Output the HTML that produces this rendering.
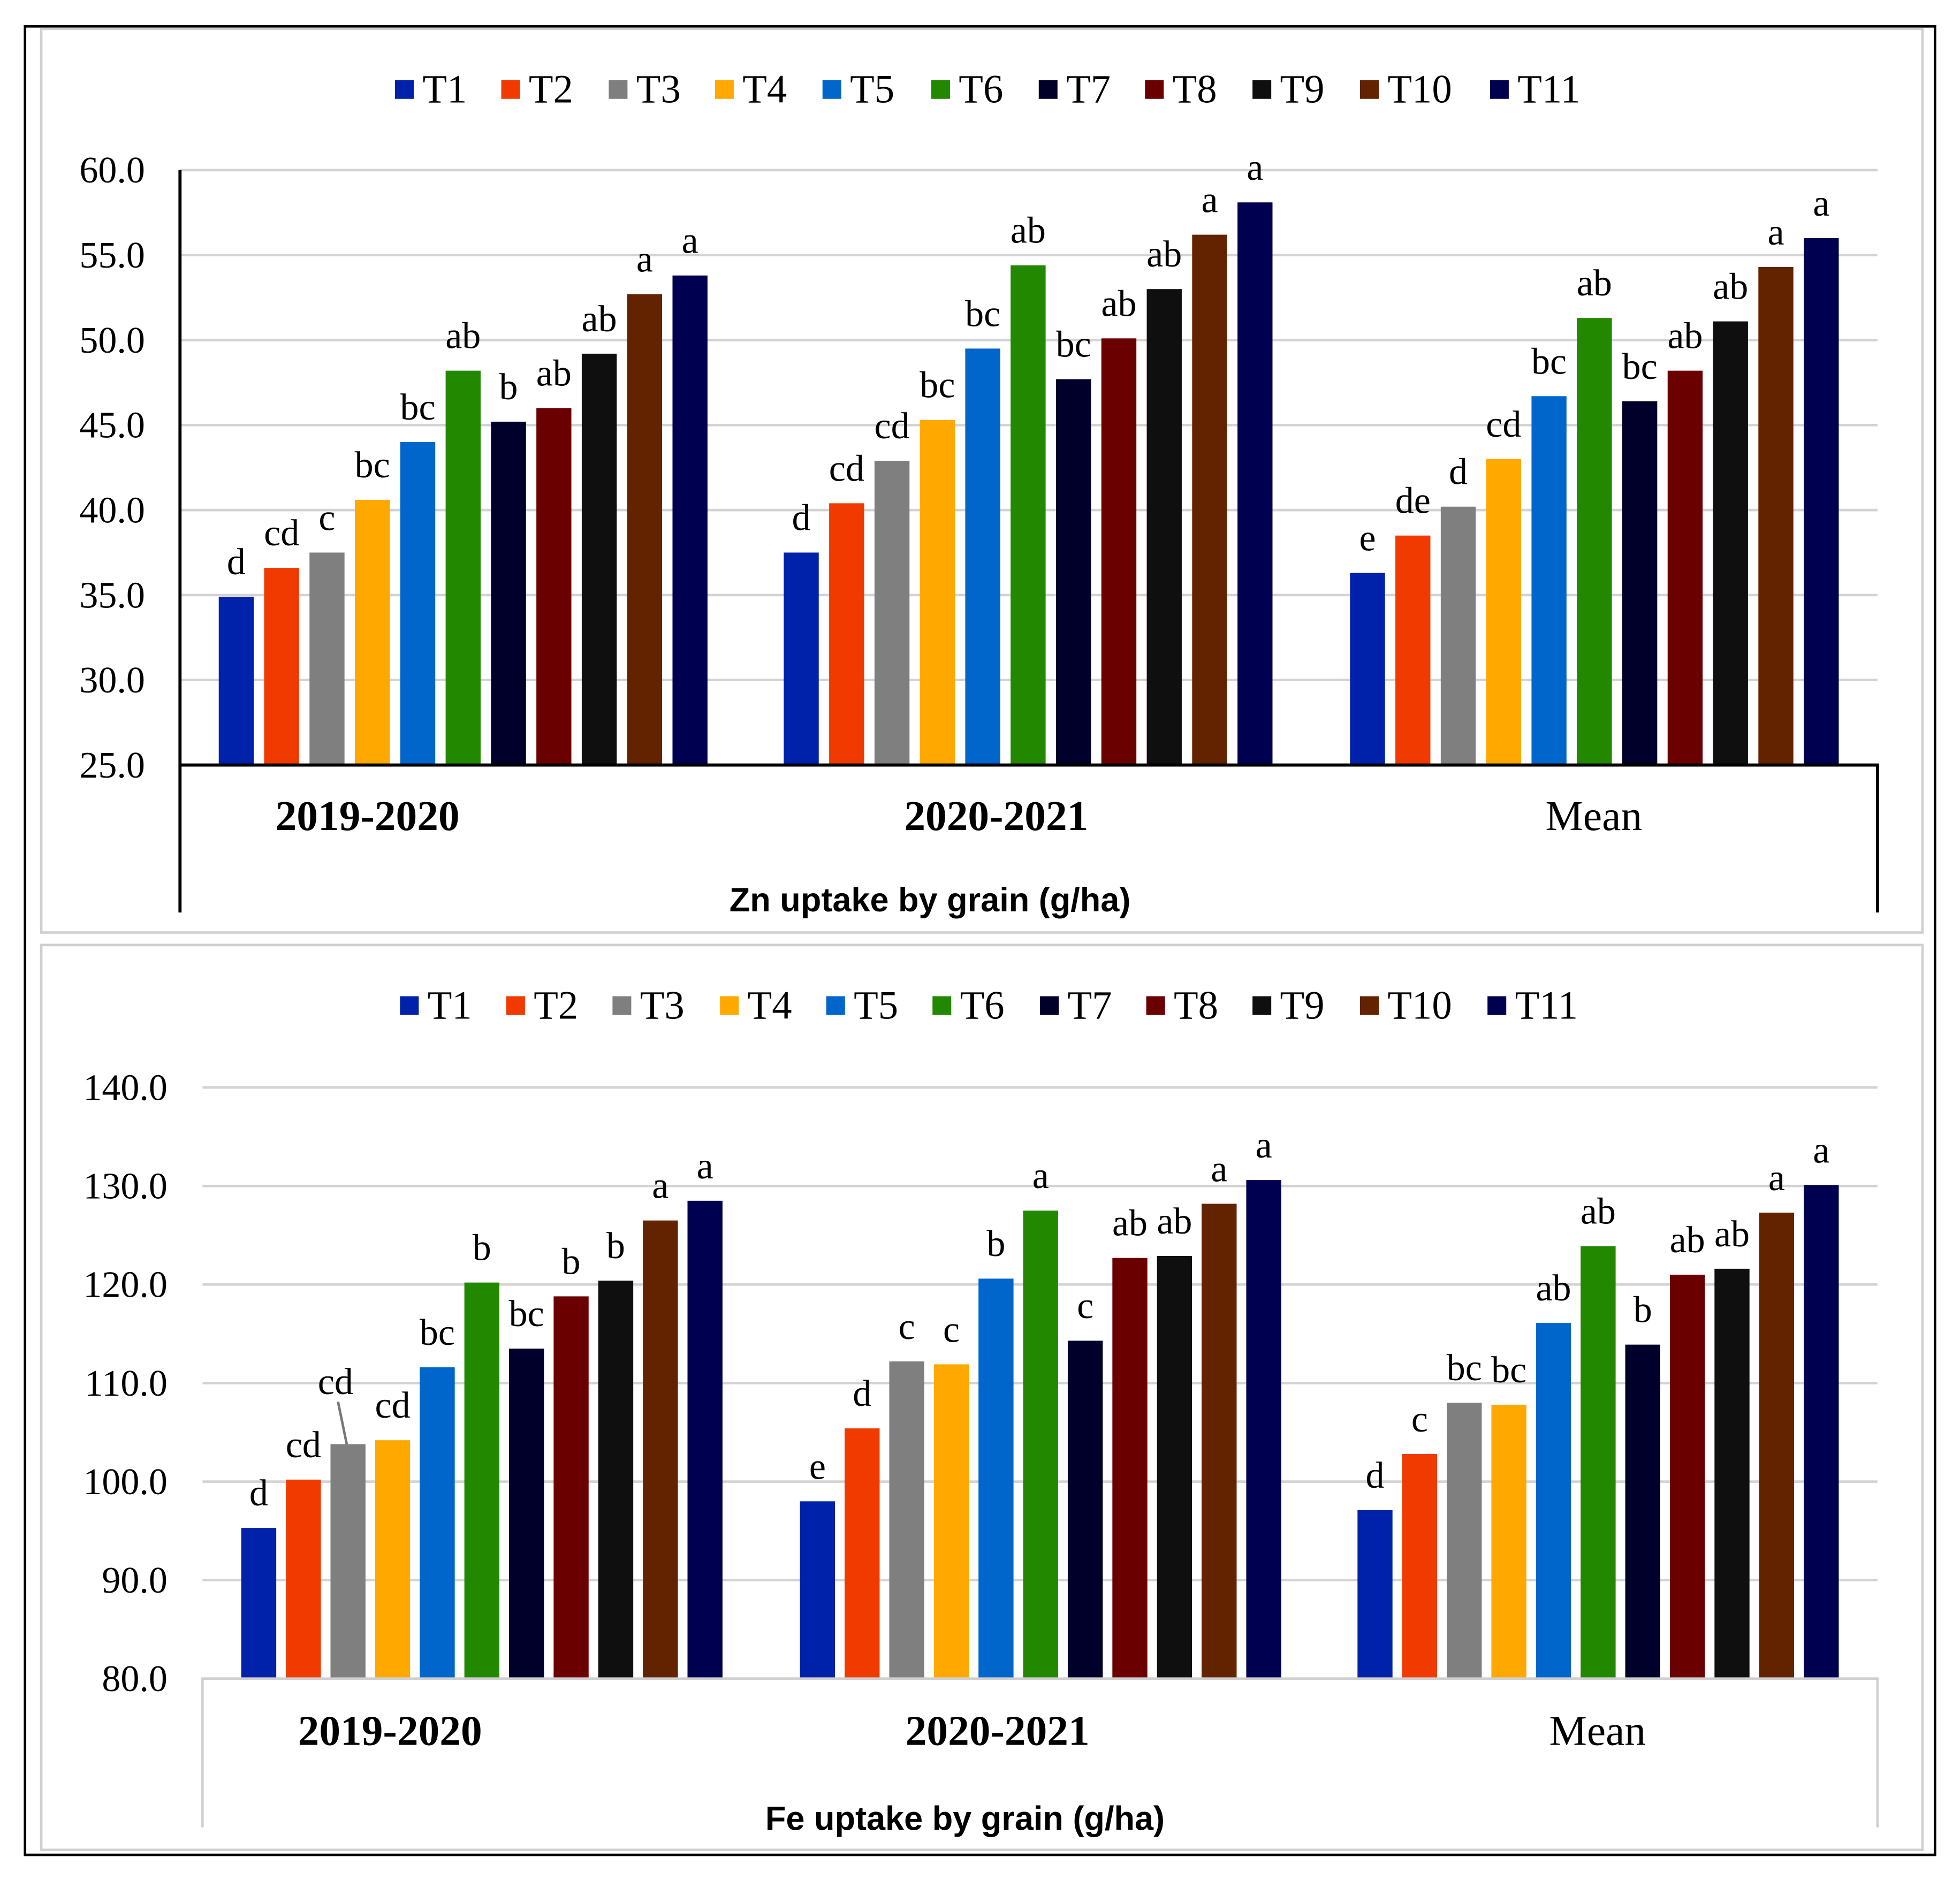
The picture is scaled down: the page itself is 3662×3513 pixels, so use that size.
<!DOCTYPE html>
<html><head><meta charset="utf-8">
<style>
html,body{margin:0;padding:0;background:#fff;}
svg{display:block;}
text{font-family:"Liberation Serif",serif;}
</style></head>
<body>
<svg id="chart" width="3662" height="3513" viewBox="0 0 1568 1504" xmlns="http://www.w3.org/2000/svg">
<rect x="20" y="21" width="1528" height="1463" fill="#fff" stroke="#000" stroke-width="2"/>
<rect x="33" y="23" width="1505" height="723" fill="none" stroke="#d0d0d0" stroke-width="2"/>
<rect x="33" y="756" width="1505" height="724" fill="none" stroke="#d0d0d0" stroke-width="2"/>
<g id="zn"></g>
<g id="fe"></g>
</svg>
<script>
const treatments = ["T1","T2","T3","T4","T5","T6","T7","T8","T9","T10","T11"];
const colors = ["#0022aa","#f03a00","#7f7f7f","#ffa800","#0066cc","#228800","#00002a","#6b0000","#0f0f0f","#632300","#000050"];
const groups = ["2019-2020","2020-2021","Mean"];
const znTicks = [25,30,35,40,45,50,55,60];
const zn2019 = [34.9,36.6,37.5,40.6,44.0,48.2,45.2,46.0,49.2,52.7,53.8];
const zn2020 = [37.5,40.4,42.9,45.3,49.5,54.4,47.7,50.1,53.0,56.2,58.1];
const znMean = [36.3,38.5,40.2,43.0,46.7,51.3,46.4,48.2,51.1,54.3,56.0];
const znLab2019 = ["d","cd","c","bc","bc","ab","b","ab","ab","a","a"];
const znLab2020 = ["d","cd","cd","bc","bc","ab","bc","ab","ab","a","a"];
const znLabMean = ["e","de","d","cd","bc","ab","bc","ab","ab","a","a"];
const feTicks = [80,90,100,110,120,130,140];
const fe2019 = [95.3,100.2,103.8,104.2,111.6,120.2,113.5,118.8,120.4,126.5,128.5];
const fe2020 = [98.0,105.4,112.2,111.9,120.6,127.5,114.3,122.7,122.9,128.2,130.6];
const feMean = [97.1,102.8,108.0,107.8,116.1,123.9,113.9,121.0,121.6,127.3,130.1];
const feLab2019 = ["d","cd","cd","cd","bc","b","bc","b","b","a","a"];
const feLab2020 = ["e","d","c","c","b","a","c","ab","ab","a","a"];
const feLabMean = ["d","c","bc","bc","ab","ab","b","ab","ab","a","a"];

const NS="http://www.w3.org/2000/svg";
function mk(parent,tag,attrs,txt){const e=document.createElementNS(NS,tag);for(const k in attrs)e.setAttribute(k,attrs[k]);if(txt!==undefined)e.textContent=txt;parent.appendChild(e);return e;}

function draw(cfg){
  const g=document.getElementById(cfg.id);
  const y=v=>cfg.yBot-(v-cfg.min)/(cfg.max-cfg.min)*(cfg.yBot-cfg.yTop);
  treatments.forEach((t,i)=>{
    const lx=cfg.legX[i];
    const sq=mk(g,'rect',{x:lx,y:cfg.legY-7,width:15,height:15,fill:colors[i]});
    
    
    const tx=mk(g,'text',{x:lx+22,y:cfg.legY+11,'font-size':32},t);
    
    
  });
  cfg.ticks.forEach(v=>{
    const gl=mk(g,'line',{x1:cfg.x0,x2:cfg.x1,y1:y(v),y2:y(v),stroke:'#d3d3d3','stroke-width':2});
    
    
    const tl=mk(g,'text',{x:cfg.tickX,y:y(v)+10,'font-size':30,'text-anchor':'end'},v.toFixed(1));
    
    
  });
  cfg.series.forEach((vals,gi)=>{
    const gx=cfg.gStart[gi];
    vals.forEach((v,i)=>{
      const bx=gx+i*cfg.step;
      const b=mk(g,'rect',{x:bx,y:y(v),width:cfg.bw,height:y(cfg.min)-y(v),fill:colors[i]});
      
      
      let ly=y(v)-18, lx=bx+cfg.bw/2;
      if(cfg.raise && cfg.raise[0]===gi && cfg.raise[1]===i){
        ly=y(v)-40;
        const ll=mk(g,'line',{x1:lx-8,y1:ly+6,x2:lx-1,y2:y(v),stroke:'#777','stroke-width':2});
        
        
        lx-=10;
      }
      const lt=mk(g,'text',{x:lx,y:ly,'font-size':30,'text-anchor':'middle'},cfg.labels[gi][i]);
      
      
    });
  });
  const ax=mk(g,'path',{d:cfg.frame,fill:'none',stroke:cfg.frameColor,'stroke-width':cfg.frameW});
  
  
  groups.forEach((name,gi)=>{
    const c=mk(g,'text',{x:cfg.catX[gi],y:cfg.catY,'font-size':34,'text-anchor':'middle','font-weight':gi<2?'bold':'normal'},name);
    
    
  });
  const t=mk(g,'text',{x:cfg.titleX,y:cfg.titleY,'font-size':27,'text-anchor':'middle','font-weight':'bold',style:'font-family:"Liberation Sans",sans-serif'},cfg.title);
  
  
}

draw({id:'zn',min:25,max:60,yTop:136,yBot:612,x0:144,x1:1502,tickX:116,ticks:znTicks,
  series:[zn2019,zn2020,znMean],labels:[znLab2019,znLab2020,znLabMean],
  gStart:[175,627,1080],step:36.3,bw:28,
  legX:[316,401,487,572,658,745,831,916,1002,1088,1192],legY:71,
  frame:'M144,136 L144,730 M144,612 L1502,612 L1502,730',frameColor:'#000',frameW:2.5,
  catX:[294,797,1275],catY:664,title:'Zn uptake by grain (g/ha)',titleX:744,titleY:729});
draw({id:'fe',min:80,max:140,yTop:870,yBot:1343,x0:162,x1:1502,tickX:134,ticks:feTicks,
  series:[fe2019,fe2020,feMean],labels:[feLab2019,feLab2020,feLabMean],
  gStart:[193,640,1086],step:35.7,bw:28,raise:[0,2],
  legX:[320,405,490,576,661,746,832,917,1002,1088,1190],legY:804,
  frame:'M162,1462 L162,1343 L1502,1343 L1502,1462',frameColor:'#d0d0d0',frameW:2,
  catX:[312,798,1278],catY:1396,title:'Fe uptake by grain (g/ha)',titleX:772,titleY:1464});
</script>
</body></html>
